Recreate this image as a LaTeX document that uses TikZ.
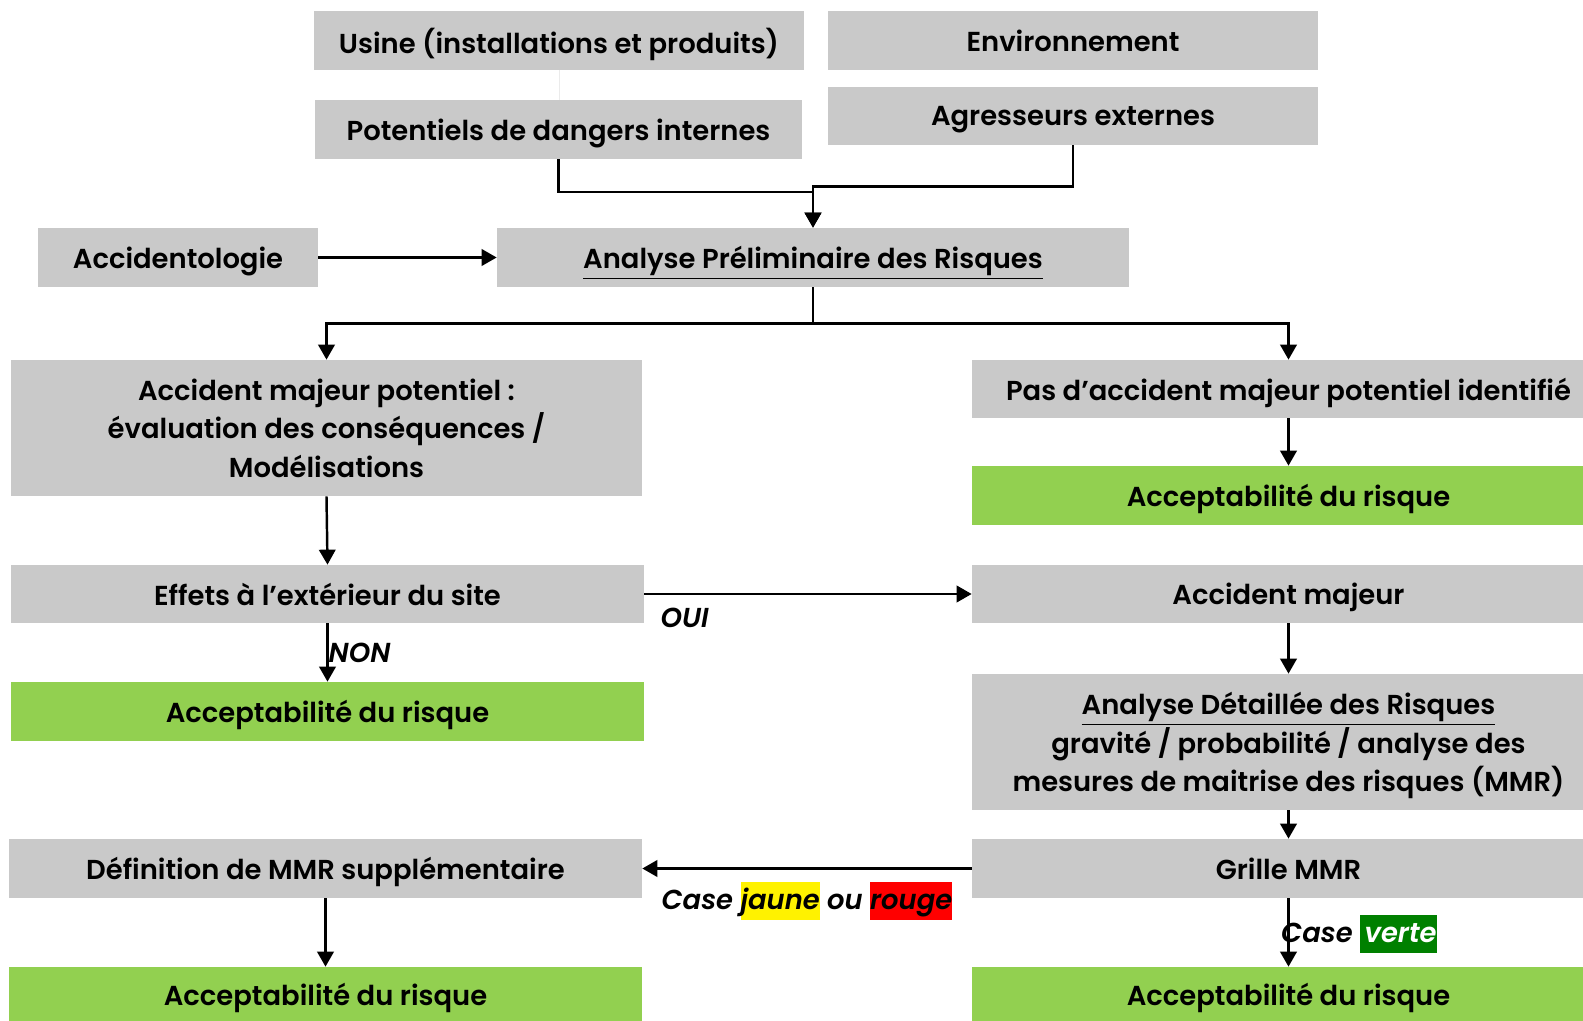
\documentclass[tikz,border=0pt]{standalone}
\usepackage{fontspec}
\setmainfont{Poppins}[BoldFont={Poppins SemiBold},BoldItalicFont={Poppins SemiBold Italic}]
\usetikzlibrary{arrows.meta, calc, positioning}
\definecolor{boxgray}{RGB}{201,201,201}
\definecolor{okgreen}{RGB}{146,208,80}
\definecolor{vertfonce}{RGB}{0,128,0}
\newcommand{\surligne}[2]{{\setlength{\fboxsep}{0pt}\colorbox{#1}{\rule[-6pt]{0pt}{22pt}#2}}}
\tikzstyle{block} = [rectangle, fill=boxgray, text centered, align=center, font=\fontsize{15.6}{21.8}\selectfont\bfseries, minimum height=1.18cm, inner sep=0pt, text depth=0pt]
\tikzstyle{accept} = [block, fill=okgreen]
\tikzstyle{arrow} = [line width=1.4pt, -{Triangle[length=3mm, width=3.3mm]}]
\tikzstyle{label} = [font=\fontsize{15.6}{17}\selectfont\bfseries\itshape, inner sep=0pt]

\begin{document}
\begin{tikzpicture}
    \useasboundingbox (0,0) rectangle (31.66,-20.42);
    % entrees
    \node (Usine) [block, minimum width=9.8cm] at (11.18,-0.81) {Usine (installations et produits)};
    \node (Env) [block, minimum width=9.8cm] at (21.46,-0.81) {Environnement};
    \node (Potentiels) [block, minimum width=9.74cm] at (11.17,-2.59) {Potentiels de dangers internes};
    \node (Agresseurs) [block, minimum width=9.8cm, minimum height=1.16cm] at (21.46,-2.32) {Agresseurs externes};
    \node (Accidento) [block, minimum width=5.6cm] at (3.56,-5.15) {Accidentologie};
    \node (APR) [block, minimum width=12.64cm] at (16.26,-5.15) {\underline{Analyse Préliminaire des Risques}};
    % colonne gauche
    \node (AccPot) [block, minimum width=12.62cm, minimum height=2.72cm] at (6.53,-8.56) {Accident majeur potentiel :\\évaluation des conséquences /\\Modélisations};
    \node (Effets) [block, minimum width=12.66cm, minimum height=1.16cm] at (6.55,-11.88) {Effets à l’extérieur du site};
    \node (AcceptA) [accept, minimum width=12.66cm] at (6.55,-14.23) {Acceptabilité du risque};
    \node (DefMMR) [block, minimum width=12.66cm] at (6.51,-17.37) {Définition de MMR supplémentaire};
    \node (AcceptB) [accept, minimum width=12.66cm, minimum height=1.08cm] at (6.51,-19.88) {Acceptabilité du risque};
    % colonne droite
    \node (PasAcc) [block, minimum width=12.66cm, minimum height=1.16cm] at (25.77,-7.78) {Pas d’accident majeur potentiel identifié};
    \node (AcceptC) [accept, minimum width=12.66cm] at (25.77,-9.91) {Acceptabilité du risque};
    \node (AccMaj) [block, minimum width=12.66cm, minimum height=1.16cm] at (25.77,-11.88) {Accident majeur};
    \node (ADR) [block, minimum width=12.66cm, minimum height=2.72cm] at (25.77,-14.84) {\underline{Analyse Détaillée des Risques}\\gravité / probabilité / analyse des\\mesures de maitrise des risques (MMR)};
    \node (Grille) [block, minimum width=12.66cm] at (25.77,-17.37) {Grille MMR};
    \node (AcceptD) [accept, minimum width=12.66cm, minimum height=1.08cm] at (25.77,-19.88) {Acceptabilité du risque};

    \draw [line width=0.4pt, black!8] (Usine.south) -- (Usine.south |- Potentiels.north);
    \draw [arrow] (Potentiels.south) -- ++(0,-0.65) -| (APR.north);
    \draw [arrow] (Agresseurs.south) -- ++(0,-0.82) -| (APR.north);
    \draw [arrow] (Accidento.east) -- (APR.west);
    \draw [arrow] (APR.south) -- ++(0,-0.72) -| (AccPot.north);
    \draw [arrow] (APR.south) -- ++(0,-0.72) -| (PasAcc.north);
    \draw [arrow] (AccPot.south) -- (Effets.north);
    \draw [arrow] (Effets.south) -- node[label, anchor=west]{NON} (AcceptA.north);
    \draw [arrow] (Effets.east) -- (AccMaj.west) node[label, pos=0, anchor=north west, xshift=3mm, yshift=-2.6mm]{OUI};
    \draw [arrow] (PasAcc.south) -- (AcceptC.north);
    \draw [arrow] (AccMaj.south) -- (ADR.north);
    \draw [arrow] (ADR.south) -- (Grille.north);
    \draw [arrow] (Grille.west) -- node[label, below=2.4mm]{Case \surligne{yellow}{jaune} ou \surligne{red}{rouge}} (DefMMR.east);
    \draw [arrow] (Grille.south) -- node[label, anchor=west, xshift=-1.7mm, yshift=-0.3mm]{Case \surligne{vertfonce}{\color{white}\,verte}} (AcceptD.north);
    \draw [arrow] (DefMMR.south) -- (AcceptB.north);
\end{tikzpicture}
\end{document}
